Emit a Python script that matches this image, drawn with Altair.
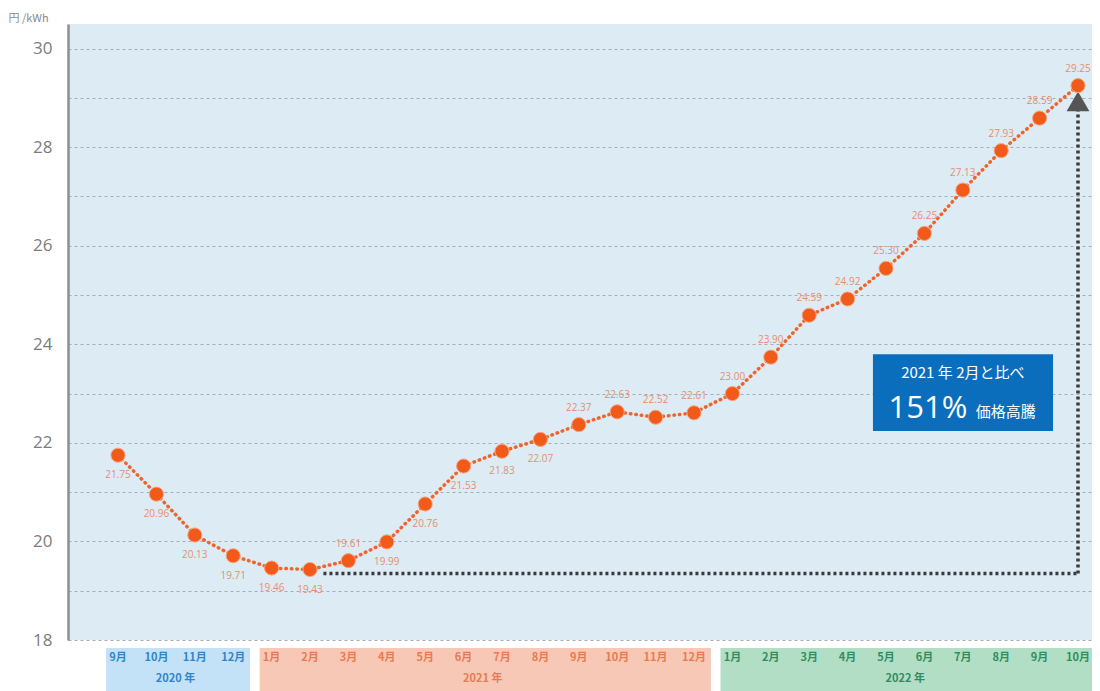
import altair as alt
import pandas as pd

# ---------------- data ----------------
months = ["9月", "10月", "11月", "12月",
          "1月", "2月", "3月", "4月", "5月", "6月", "7月", "8月", "9月", "10月", "11月", "12月",
          "1月", "2月", "3月", "4月", "5月", "6月", "7月", "8月", "9月", "10月"]
years = ["2020"] * 4 + ["2021"] * 12 + ["2022"] * 10
prices = [21.75, 20.96, 20.13, 19.71, 19.46, 19.43, 19.61, 19.99, 20.76, 21.53, 21.83, 22.07,
          22.37, 22.63, 22.52, 22.61, 23.00, 23.74, 24.59, 24.92, 25.54, 26.25, 27.13, 27.93,
          28.59, 29.25]
price_labels = ["21.75", "20.96", "20.13", "19.71", "19.46", "19.43", "19.61", "19.99", "20.76",
                "21.53", "21.83", "22.07", "22.37", "22.63", "22.52", "22.61", "23.00", "23.90",
                "24.59", "24.92", "25.30", "26.25", "27.13", "27.93", "28.59", "29.25"]
label_side = ["below"] * 6 + ["above"] + ["below"] * 5 + ["above"] * 14

year_names = ["2020", "2021", "2022"]
year_titles = ["2020 年", "2021 年", "2022 年"]
band_colors = ["#C4E2F7", "#F8C8B6", "#B2DEC6"]
text_colors = ["#2F86C8", "#E97A52", "#2E8F5E"]

grid_vals = [19, 20, 21, 22, 23, 24, 25, 26, 27, 28, 29, 30]

base_index = 5
box_line1 = "2021 年 2月と比べ"
rise_text = "151%"
rise_word = "価格高騰"

# ---------------- tables ----------------
W, H = 1024, 616
JP = "Noto Sans CJK JP"

df = pd.DataFrame({"i": list(range(len(months))), "month": months, "year": years,
                   "price": prices, "label": price_labels, "side": label_side})
df["tcolor"] = df["year"].map(dict(zip(year_names, text_colors)))

bands = []
for y, t, bc, tc in zip(year_names, year_titles, band_colors, text_colors):
    idx = df.index[df["year"] == y]
    bands.append({"year": y, "title": t, "start": idx.min() - 0.31, "end": idx.max() + 0.44,
                  "mid": (idx.min() + idx.max()) / 2, "bcolor": bc, "tcolor": tc})
bands = pd.DataFrame(bands)

xs = alt.Scale(domain=[-50 / 38.4, (W - 50) / 38.4], nice=False, zero=False)
ys = alt.Scale(domain=[18, 30.5], nice=False, zero=False)

X = lambda f: alt.X(f, type="quantitative", scale=xs, axis=None)

# axes / grid carrier
axes = alt.Chart(pd.DataFrame({"v": grid_vals})).mark_rule(opacity=0).encode(
    x=alt.X("v:Q", scale=xs, axis=alt.Axis(labels=False, ticks=False, grid=False, title=None,
                                          domainColor="#8E8E8E", domainWidth=2.5)),
    y=alt.Y("v:Q", scale=ys, axis=alt.Axis(values=grid_vals + [18], grid=True, gridDash=[3, 3],
                                          gridColor="#A3ADB7", gridWidth=1.2, ticks=False,
                                          labelExpr="datum.value % 2 == 0 ? datum.label : ''",
                                          labelFontSize=17, labelColor="#7C7C7C", labelFont="Open Sans",
                                          labelPadding=16, domainColor="#8E8E8E", domainWidth=2.5,
                                          title="円 /kWh", titleAngle=0, titleAlign="left",
                                          titleX=-60, titleY=-3, titleBaseline="alphabetic",
                                          titleFontSize=11, titleFontWeight="normal",
                                          titleColor="#8A8A8A", titleFont=JP)),
)

line = alt.Chart(df).mark_line(color="#F0642A", strokeWidth=3.5, strokeDash=[0.5, 5],
                               strokeCap="round").encode(x=X("i"), y=alt.Y("price:Q", scale=ys))

# arrow
h_arrow = alt.Chart(pd.DataFrame({"x": [base_index + 0.35], "x2": [25], "y": [19.35]})).mark_rule(
    color="#3A3A3A", strokeWidth=3.5, strokeDash=[3, 3]).encode(
    x=X("x"), x2="x2:Q", y=alt.Y("y:Q", scale=ys))
v_arrow = alt.Chart(pd.DataFrame({"x": [25], "y": [19.35], "y2": [28.75]})).mark_rule(
    color="#3A3A3A", strokeWidth=3.5, strokeDash=[3, 3]).encode(
    x=X("x"), y=alt.Y("y:Q", scale=ys), y2="y2:Q")
tri = alt.Chart(pd.DataFrame({"x": [25], "y": [28.93]})).mark_point(
    shape="triangle-up", filled=True, size=520, color="#555555", opacity=1).encode(
    x=X("x"), y=alt.Y("y:Q", scale=ys))

points = alt.Chart(df).mark_circle(size=200, color="#F25A1A", opacity=1, stroke="#F6A581",
                                   strokeWidth=1).encode(x=X("i"), y=alt.Y("price:Q", scale=ys))

lab_style = dict(font="Open Sans", fontSize=10, color="#E58F6E")
lab_below = alt.Chart(df).transform_filter("datum.side == 'below'").mark_text(dy=20, **lab_style).encode(
    x=X("i"), y=alt.Y("price:Q", scale=ys), text="label:N")
lab_above = alt.Chart(df).transform_filter("datum.side == 'above'").mark_text(dy=-17, **lab_style).encode(
    x=X("i"), y=alt.Y("price:Q", scale=ys), text="label:N")

# annotation box
box = alt.Chart(pd.DataFrame({"x": [19.66], "x2": [24.35], "y": [23.80], "y2": [22.24]})).mark_rect(
    color="#0A6EBD").encode(x=X("x"), x2="x2:Q", y=alt.Y("y:Q", scale=ys), y2="y2:Q")
box_t1 = alt.Chart(pd.DataFrame({"x": [22.0], "y": [23.42], "t": [box_line1]})).mark_text(
    font=JP, fontSize=15, color="white").encode(x=X("x"), y=alt.Y("y:Q", scale=ys), text="t:N")
box_t2 = alt.Chart(pd.DataFrame({"x": [22.12], "y": [22.68], "t": [rise_text]})).mark_text(
    font="Open Sans", fontSize=31, color="white", align="right").encode(
    x=X("x"), y=alt.Y("y:Q", scale=ys), text="t:N")
box_t3 = alt.Chart(pd.DataFrame({"x": [22.34], "y": [22.62], "t": [rise_word]})).mark_text(
    font=JP, fontSize=15, color="white", align="left").encode(
    x=X("x"), y=alt.Y("y:Q", scale=ys), text="t:N")

# bottom year bands
band_rect = alt.Chart(bands).mark_rect(clip=False).encode(
    x=X("start"), x2="end:Q", y=alt.value(624), y2=alt.value(668),
    color=alt.Color("bcolor:N", scale=None))
month_txt = alt.Chart(df).mark_text(font=JP, fontSize=11, fontWeight="bold", clip=False).encode(
    x=X("i"), y=alt.value(634), text="month:N", color=alt.Color("tcolor:N", scale=None))
year_txt = alt.Chart(bands).mark_text(font=JP, fontSize=11, fontWeight="bold", clip=False).encode(
    x=X("mid"), y=alt.value(655), text="title:N", color=alt.Color("tcolor:N", scale=None))

chart = alt.layer(axes, band_rect, month_txt, year_txt, line, h_arrow, v_arrow, tri, points,
                  lab_below, lab_above, box, box_t1, box_t2, box_t3).properties(
    width=W, height=H, autosize="none",
    padding={"left": 60, "top": 16, "right": 0, "bottom": 52},
    background="white",
).configure_view(fill="#DDEBF5", stroke=None)

chart.save("out.html", embed_options={"renderer": "svg", "actions": False})
